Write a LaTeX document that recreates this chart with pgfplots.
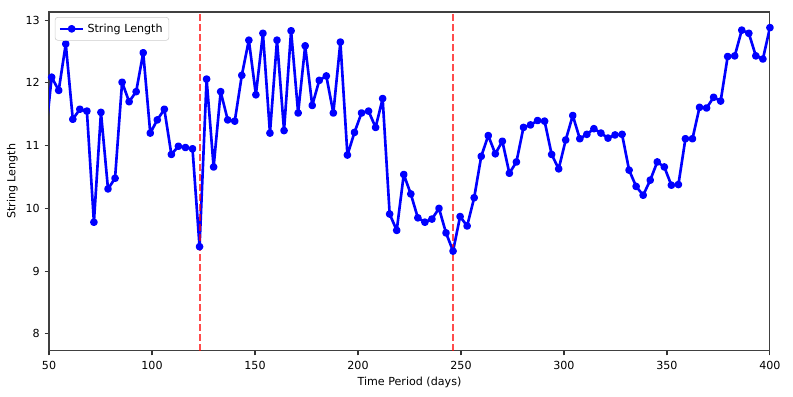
\documentclass[border=0pt]{standalone}
\usepackage{fontspec}
\setmainfont{DejaVu Sans}
\usepackage{pgfplots}
\pgfplotsset{compat=1.18}
\usepackage{pgfplotstable}

% string length series (x in days)
\pgfplotstableread{
x y
47.86 11.02
51.28 12.09
54.70 11.88
58.12 12.62
61.54 11.42
64.96 11.58
68.38 11.55
71.79 9.78
75.21 11.53
78.63 10.31
82.05 10.48
85.47 12.01
88.89 11.70
92.31 11.86
95.73 12.48
99.15 11.20
102.56 11.41
105.98 11.58
109.40 10.86
112.82 10.99
116.24 10.97
119.66 10.95
123.08 9.39
126.50 12.06
129.91 10.66
133.33 11.86
136.75 11.41
140.17 11.39
143.59 12.12
147.01 12.68
150.43 11.81
153.85 12.79
157.26 11.20
160.68 12.68
164.10 11.24
167.52 12.83
170.94 11.52
174.36 12.59
177.78 11.64
181.20 12.04
184.62 12.11
188.03 11.52
191.45 12.65
194.87 10.85
198.29 11.21
201.71 11.52
205.13 11.55
208.55 11.29
211.97 11.75
215.38 9.91
218.80 9.65
222.22 10.54
225.64 10.23
229.06 9.85
232.48 9.78
235.90 9.83
239.32 10.00
242.74 9.61
246.15 9.32
249.57 9.87
252.99 9.72
256.41 10.17
259.83 10.83
263.25 11.16
266.67 10.87
270.09 11.07
273.50 10.56
276.92 10.74
280.34 11.29
283.76 11.33
287.18 11.40
290.60 11.39
294.02 10.86
297.44 10.63
300.85 11.09
304.27 11.48
307.69 11.11
311.11 11.18
314.53 11.27
317.95 11.20
321.37 11.12
324.79 11.17
328.21 11.18
331.62 10.61
335.04 10.35
338.46 10.21
341.88 10.45
345.30 10.74
348.72 10.66
352.14 10.37
355.56 10.38
358.97 11.11
362.39 11.11
365.81 11.61
369.23 11.60
372.65 11.77
376.07 11.71
379.49 12.42
382.91 12.43
386.32 12.84
389.74 12.79
393.16 12.43
396.58 12.38
400.00 12.88
}\lengthdata

\begin{document}
\begin{tikzpicture}
\begin{axis}[
  scale only axis,
  width=519pt, height=244pt,
  xmin=50, xmax=400, ymin=7.73, ymax=13.13,
  xtick={50,100,...,400}, ytick={8,9,...,13},
  tick align=outside, xtick pos=bottom, ytick pos=left,
  major tick length=3.2pt,
  every tick/.style={black!80, line width=0.8pt},
  axis line style={black!75, line width=0.8pt},
  tick label style={font=\fontsize{8}{9.6}\selectfont},
  xticklabel style={yshift=-1pt},
  /pgf/number format/assume math mode=true,
  xlabel={Time Period (days)}, ylabel={String Length},
  label style={font=\fontsize{8}{9.6}\selectfont},
  xlabel style={at={(axis description cs:0.5,0)}, anchor=north, yshift=-15pt},
  ylabel style={at={(axis description cs:0,0.5)}, anchor=south, yshift=19pt},
  legend style={at={(0.008,0.985)}, anchor=north west, draw=black!20,
    rounded corners=2pt, font=\fontsize{8}{9.6}\selectfont,
    inner xsep=2.5pt, inner ysep=2.5pt, row sep=0pt},
  legend image code/.code={
    \draw[#1, mark repeat=2, mark phase=2] plot coordinates {(0pt,0pt) (8.5pt,0pt) (17pt,0pt)};},
  legend cell align=left,
]
\addplot[blue, line width=1.9pt, line join=round, mark=*, mark size=1.8pt] table[x=x, y=y] {\lengthdata};
\addlegendentry{String Length}
\addplot[red, opacity=0.7, line width=1.4pt, dash pattern=on 5pt off 2.2pt, forget plot]
  coordinates {(123.08,7.73) (123.08,13.13)};
\addplot[red, opacity=0.7, line width=1.4pt, dash pattern=on 5pt off 2.2pt, forget plot]
  coordinates {(246.15,7.73) (246.15,13.13)};
\end{axis}
\pgfresetboundingbox
\path (-35.3pt,-33.1pt) rectangle (535.6pt,252.6pt);
\end{tikzpicture}
\end{document}
